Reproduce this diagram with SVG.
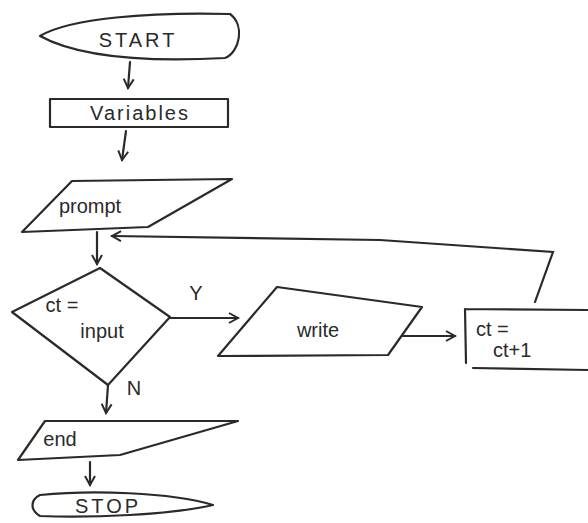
<svg xmlns="http://www.w3.org/2000/svg" width="588" height="523" viewBox="0 0 588 523">
<style>
.s{fill:none;stroke:#2a2a2a;stroke-width:2.2;stroke-linecap:round;stroke-linejoin:round}
.t{font-family:"Liberation Sans",Arial,sans-serif;fill:#2a2a2a;font-size:20px}
.c{fill:none;stroke:#2a2a2a;stroke-width:2.2;stroke-linecap:round;marker-end:url(#a)}
</style>
<defs>
<marker id="a" viewBox="0 0 12 12" refX="10" refY="6" markerWidth="12" markerHeight="12" markerUnits="userSpaceOnUse" orient="auto">
<path d="M1,1 L10,6 L1,11" fill="none" stroke="#2a2a2a" stroke-width="2"/>
</marker>
</defs>
<rect width="588" height="523" fill="#fff"/>
<g id="start">
<path class="s" d="M40,36 C70,18 150,12 230,14 C245,25 240,52 225,58 C150,62 80,58 40,36 Z"/>
<text class="t" x="138" y="47" text-anchor="middle" letter-spacing="3">START</text>
</g>
<g id="variables">
<rect class="s" x="50" y="99" width="178" height="28"/>
<text class="t" x="140" y="120" text-anchor="middle" letter-spacing="2">Variables</text>
</g>
<g id="prompt">
<path class="s" d="M72,181 L232,179 L148,227 L22,232 Z"/>
<text class="t" x="90" y="213" text-anchor="middle">prompt</text>
</g>
<g id="decision">
<path class="s" d="M100,268 L170,317 L108,385 L12,312 Z"/>
<text class="t" x="62" y="312" text-anchor="middle">ct =</text>
<text class="t" x="102" y="338" text-anchor="middle">input</text>
</g>
<g id="write">
<path class="s" d="M277,287 L422,307 L388,355 L218,356 Z"/>
<text class="t" x="318" y="337" text-anchor="middle">write</text>
</g>
<g id="increment">
<path class="s" d="M465,309 L588,310 M465,309 L466,363 M473,368 L588,370"/>
<text class="t" x="476" y="336">ct =</text>
<text class="t" x="493" y="357">ct+1</text>
</g>
<g id="end">
<path class="s" d="M45,421 L238,421 L120,455 L18,460 Z"/>
<text class="t" x="60" y="446" text-anchor="middle">end</text>
</g>
<g id="stop">
<path class="s" d="M40,495 C90,490 170,492 213,505 C170,515 90,518 40,516 C30,510 30,500 40,495 Z"/>
<text class="t" x="108" y="513" text-anchor="middle" letter-spacing="3">STOP</text>
</g>
<g id="connectors">
<path class="c" d="M130,62 L128,88"/>
<path class="c" d="M126,131 L122,160"/>
<path class="c" d="M97,232 L97,264"/>
<path class="c" d="M535,302 L553,252 L380,240 L112,236"/>
<path class="c" d="M170,318 L238,318"/>
<path class="c" d="M402,336 L455,336"/>
<path class="c" d="M108,385 L106,413"/>
<path class="c" d="M90,462 L90,485"/>
<text class="t" x="196" y="300" text-anchor="middle">Y</text>
<text class="t" x="134" y="395" text-anchor="middle">N</text>
</g>
</svg>
